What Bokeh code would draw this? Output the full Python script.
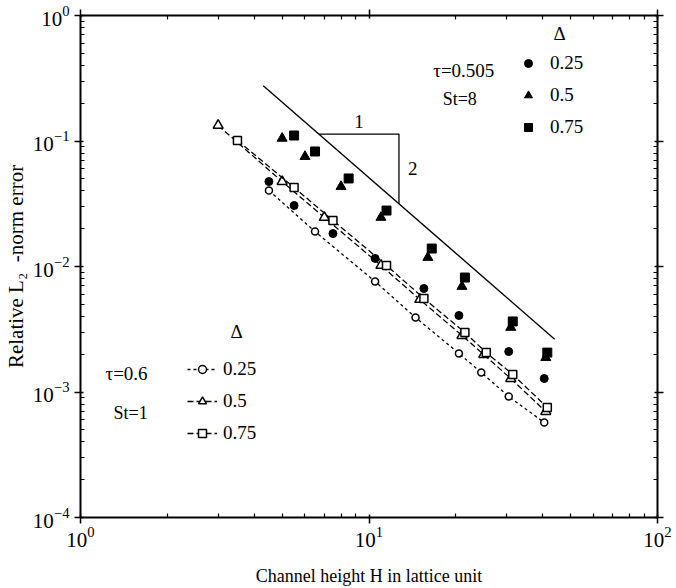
import math

from bokeh.embed import file_html
from bokeh.models import (CustomJSTickFormatter, FixedTicker, Label, Legend,
                          LegendItem, LogAxis, LogTickFormatter, Range1d)
from bokeh.plotting import figure
from bokeh.resources import INLINE

FONT = "Liberation Serif"

# tau = 0.505, St = 8 (filled symbols)
h_fill_025 = [4.5, 5.5, 7.5, 10.5, 15.5, 20.5, 30.5, 40.5]
e_fill_025 = [0.0475, 0.0306, 0.0183, 0.0116, 0.00668, 0.00407, 0.00210, 0.00128]
h_fill_050 = [5, 6, 8, 11, 16, 21, 31, 41]
e_fill_050 = [0.105, 0.0752, 0.0434, 0.0246, 0.0118, 0.00693, 0.00327, 0.00188]
h_fill_075 = [5.5, 6.5, 8.5, 11.5, 16.5, 21.5, 31.5, 41.5]
e_fill_075 = [0.1106, 0.0825, 0.0503, 0.0279, 0.0139, 0.00817, 0.00365, 0.00206]

# tau = 0.6, St = 1 (open symbols joined by dashed lines)
h_open_025 = [4.5, 6.5, 10.5, 14.5, 20.5, 24.5, 30.5, 40.5]
e_open_025 = [0.0403, 0.0190, 0.00759, 0.00392, 0.00203, 0.00143, 0.00092, 0.000571]
h_open_050 = [3, 5, 7, 11, 15, 21, 25, 31, 41]
e_open_050 = [0.133, 0.0475, 0.0246, 0.0102, 0.00546, 0.00282, 0.00199, 0.00128, 0.000699]
h_open_075 = [3.5, 5.5, 7.5, 11.5, 15.5, 21.5, 25.5, 31.5, 41.5]
e_open_075 = [0.101, 0.0426, 0.0233, 0.0102, 0.00556, 0.00298, 0.00206, 0.00138, 0.000752]

delta_labels = ["0.25", "0.5", "0.75"]

# second-order reference line  e = C / H^2  and its slope triangle
ref_coef = 5.1
ref_h = [4.3, 44.0]
tri_h = [6.7, 12.7]

x_decades = [1, 10, 100]
y_decades = [1e-4, 1e-3, 1e-2, 1e-1, 1]

x_title = "Channel height H in lattice unit"
y_title = "Relative L\u2082\u00a0 -norm error"


def minor_ticks(decades):
    out = []
    for d in decades[:-1]:
        out += [m * d for m in range(2, 10)]
    return out


p = figure(width=676, height=588, x_axis_type="log", y_axis_type="log",
           x_range=Range1d(1, 100), y_range=Range1d(1e-4, 1),
           output_backend="svg", toolbar_location=None,
           min_border_left=80, min_border_right=19,
           min_border_top=15, min_border_bottom=71)
p.grid.visible = False
p.outline_line_color = None
p.background_fill_color = "white"
p.border_fill_color = "white"


def style_axis(ax, decades, labelled):
    ax.ticker = FixedTicker(ticks=decades, minor_ticks=minor_ticks(decades))
    ax.axis_line_width = 2
    ax.axis_line_color = "black"
    ax.major_tick_line_width = 1.5
    ax.major_tick_line_color = "black"
    ax.minor_tick_line_width = 1.2
    ax.minor_tick_line_color = "black"
    ax.major_tick_in = 3
    ax.major_tick_out = 6
    ax.minor_tick_in = 4
    ax.minor_tick_out = 0
    if labelled:
        ax.formatter = LogTickFormatter()
        ax.major_label_text_font = FONT
        ax.major_label_text_font_size = "21px"
        ax.major_label_text_color = "black"
        ax.axis_label_text_font = FONT
        ax.axis_label_text_font_style = "normal"
        ax.axis_label_text_color = "black"
    else:
        ax.axis_label = None
        ax.formatter = CustomJSTickFormatter(code="return ''")
        ax.major_label_standoff = 0
        ax.major_label_text_font_size = "1px"


style_axis(p.xaxis[0], x_decades, True)
style_axis(p.yaxis[0], y_decades, True)
p.xaxis[0].major_label_standoff = 3
p.yaxis[0].major_label_standoff = 5
p.xaxis[0].axis_label = x_title
p.xaxis[0].axis_label_text_font_size = "18px"
p.xaxis[0].axis_label_standoff = 16
p.yaxis[0].axis_label = y_title
p.yaxis[0].axis_label_text_font_size = "21px"
p.yaxis[0].axis_label_standoff = 2

top_axis = LogAxis()
right_axis = LogAxis()
style_axis(top_axis, x_decades, False)
style_axis(right_axis, y_decades, False)
p.add_layout(top_axis, "above")
p.add_layout(right_axis, "right")

# reference slope line and triangle
p.line(ref_h, [ref_coef / h ** 2 for h in ref_h], line_color="black", line_width=1.4)
y_top = ref_coef / tri_h[0] ** 2
y_bot = ref_coef / tri_h[1] ** 2
p.line([tri_h[0], tri_h[1], tri_h[1]], [y_top, y_top, y_bot],
       line_color="black", line_width=1.3)
p.add_layout(Label(x=math.sqrt(tri_h[0] * tri_h[1]), y=y_top, text="1",
                   text_align="center", text_baseline="alphabetic", y_offset=13,
                   text_font=FONT, text_font_size="19px", text_color="black"))
p.add_layout(Label(x=tri_h[1], y=math.sqrt(y_top * y_bot), text="2",
                   text_align="left", text_baseline="middle", x_offset=9,
                   text_font=FONT, text_font_size="19px", text_color="black"))

# open series: dashed lines first, symbols on top with white fill
open_specs = [
    (h_open_025, e_open_025, "circle", 7, "3 3"),
    (h_open_050, e_open_050, "triangle", 10, "6 3"),
    (h_open_075, e_open_075, "square", 8, "6 3"),
]
open_items = []
for (hs, es, mk, sz, dash), lab in zip(open_specs, delta_labels):
    lr = p.line(hs, es, line_color="black", line_width=1.3, line_dash=dash)
    sr = p.scatter(hs, es, marker=mk, size=sz, fill_color="white",
                   line_color="black", line_width=1.5)
    open_items.append(LegendItem(label=lab, renderers=[lr, sr]))

# filled series
fill_specs = [
    (h_fill_025, e_fill_025, "circle", 8),
    (h_fill_050, e_fill_050, "triangle", 10),
    (h_fill_075, e_fill_075, "square", 9),
]
fill_items = []
for (hs, es, mk, sz), lab in zip(fill_specs, delta_labels):
    sr = p.scatter(hs, es, marker=mk, size=sz, fill_color="black", line_color="black")
    fill_items.append(LegendItem(label=lab, renderers=[sr]))


def make_legend(items, loc, glyph_w, standoff):
    return Legend(items=items, location=loc, glyph_width=glyph_w, glyph_height=20,
                  label_height=20, spacing=10, padding=0, margin=0,
                  label_standoff=standoff, border_line_color=None,
                  background_fill_alpha=0, label_text_font=FONT,
                  label_text_font_size="19px", label_text_color="black")


p.add_layout(make_legend(fill_items, (438, 379), 20, 12))
p.add_layout(make_legend(open_items, (107, 73), 30, 6))


def text(x, y, s, size="19px", **kw):
    p.add_layout(Label(x=x, y=y, text=s, text_font=FONT, text_font_size=size,
                       text_color="black", **kw))


# parameter annotations and legend headings
text(16.7, 0.298, "τ=0.505")
text(18.0, 0.1815, "St=8", size="18px")
text(43.6, 0.598, "Δ")
text(3.31, 0.00248, "Δ")
text(1.221, 0.001148, "τ=0.6")
text(1.301, 0.000571, "St=1", size="18px")

open("out.html", "w").write(file_html(p, INLINE))
